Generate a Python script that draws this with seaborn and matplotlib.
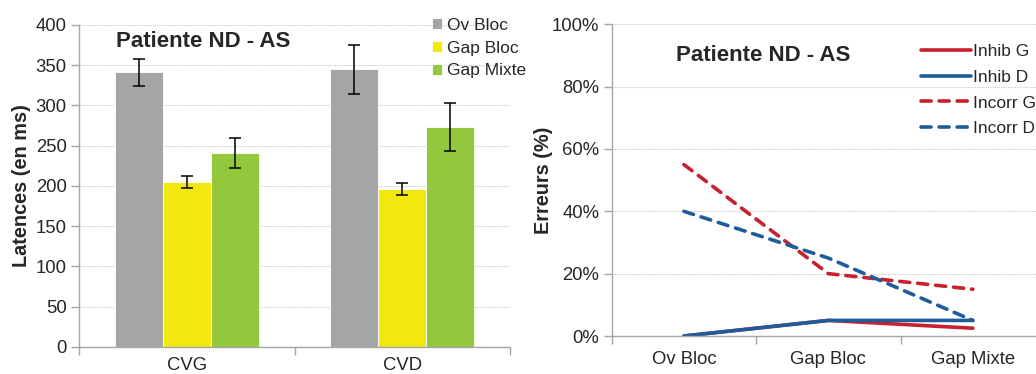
import numpy as np
import pandas as pd
import matplotlib
matplotlib.use("Agg")
import matplotlib.pyplot as plt
import seaborn as sns

# ---- data: latencies (left panel) ----
groups = ["CVG", "CVD"]
conditions = ["Ov Bloc", "Gap Bloc", "Gap Mixte"]
lat_cvg = [341, 205, 241]
lat_cvd = [345, 196, 273]
err_cvg = [17, 8, 18.5]
err_cvd = [30.5, 7.5, 30]

# ---- data: errors (right panel), in % ----
err_labels = ["Ov Bloc", "Gap Bloc", "Gap Mixte"]
inhib_g = [0, 5, 2.5]
inhib_d = [0, 5, 5]
incorr_g = [55, 20, 15]
incorr_d = [40, 25, 5]

bar_colors = ["#A5A5A5", "#F2E80F", "#92C73E"]
red = "#C8202F"
blue = "#1F5C9A"
grid_col = "#C8C8C8"
spine_col = "#A6A6A6"

sns.set_theme(style="white")
plt.rcParams["font.family"] = ["Liberation Sans", "DejaVu Sans"]

fig = plt.figure(figsize=(10.36, 3.74), dpi=100)
ax1 = fig.add_axes([0.0763, 0.0722, 0.416, 0.861])
ax2 = fig.add_axes([0.5904, 0.1016, 0.4184, 0.8334])

# ================= LEFT: bar chart =================
df_lat = pd.DataFrame({
    "Groupe": np.repeat(groups, len(conditions)),
    "Condition": conditions * len(groups),
    "Latence": lat_cvg + lat_cvd,
    "Err": err_cvg + err_cvd,
})
sns.barplot(data=df_lat, x="Groupe", y="Latence", hue="Condition",
            hue_order=conditions, palette=bar_colors, width=0.667,
            errorbar=None, saturation=1, ax=ax1,
            edgecolor="white", linewidth=0.6)

# error bars on top of each bar (positions taken from the drawn patches)
for cont, cond in zip(ax1.containers, conditions):
    sub = df_lat[df_lat["Condition"] == cond].set_index("Groupe").loc[groups]
    xs = [p.get_x() + p.get_width() / 2 for p in cont.patches]
    ax1.errorbar(xs, sub["Latence"], yerr=sub["Err"], fmt="none",
                 ecolor="black", elinewidth=1.1, capsize=4, capthick=1.1, zorder=5)

ax1.set_ylim(0, 400)
ax1.set_xlim(-0.5, 1.5)
ax1.set_yticks(range(0, 401, 50))
ax1.yaxis.grid(True, color=grid_col, linestyle=(0, (1, 1)), linewidth=0.8)
ax1.set_axisbelow(True)
ax1.set_xticks([-0.5, 0.5, 1.5])
ax1.set_xticklabels([])
ax1.set_xticks([0, 1], minor=True)
ax1.set_xticklabels(groups, minor=True)
ax1.tick_params(axis="x", which="major", length=6, width=1, color=spine_col, direction="out", bottom=True)
ax1.tick_params(axis="x", which="minor", length=0, pad=7, labelsize=13.3, bottom=True)
ax1.tick_params(axis="y", length=6, width=1, color=spine_col, direction="out", left=True, labelsize=13.3, pad=3)
ax1.set_xlabel("")
ax1.set_ylabel("Latences (en ms)", fontsize=14.3, fontweight="bold", labelpad=3)
for s in ["top", "right"]:
    ax1.spines[s].set_visible(False)
for s in ["left", "bottom"]:
    ax1.spines[s].set_color(spine_col)
    ax1.spines[s].set_linewidth(1)
ax1.text(0.085, 0.98, "Patiente ND - AS", transform=ax1.transAxes,
         fontsize=16, fontweight="bold", va="top", ha="left")
leg1 = ax1.legend(loc="upper right", bbox_to_anchor=(1.065, 1.06), frameon=False,
                  fontsize=12.5, handlelength=0.6, handleheight=0.6,
                  handletextpad=0.25, labelspacing=0.45, borderpad=0.2)

# ================= RIGHT: line chart =================
df_err = pd.DataFrame({
    "Condition": err_labels * 4,
    "Erreurs": inhib_g + inhib_d + incorr_g + incorr_d,
    "Serie": np.repeat(["Inhib G", "Inhib D", "Incorr G", "Incorr D"], len(err_labels)),
})
series_order = ["Inhib G", "Inhib D", "Incorr G", "Incorr D"]
sns.lineplot(data=df_err, x="Condition", y="Erreurs", hue="Serie", style="Serie",
             hue_order=series_order, style_order=series_order,
             palette={"Inhib G": red, "Inhib D": blue, "Incorr G": red, "Incorr D": blue},
             dashes={"Inhib G": "", "Inhib D": "", "Incorr G": (2.8, 2.2), "Incorr D": (2.8, 2.2)},
             linewidth=2.6, sort=False, ax=ax2)
for ln in ax2.get_lines():
    ln.set_dash_capstyle("round")
    ln.set_solid_capstyle("round")

ax2.set_ylim(0, 100)
ax2.set_xlim(-0.5, 2.5)
ax2.set_yticks(range(0, 101, 20))
ax2.set_yticklabels([f"{v}%" for v in range(0, 101, 20)])
ax2.yaxis.grid(True, color=grid_col, linestyle=(0, (1, 1)), linewidth=0.8)
ax2.set_axisbelow(True)
ax2.set_xticks([-0.5, 0.5, 1.5, 2.5])
ax2.set_xticklabels([])
ax2.set_xticks([0, 1, 2], minor=True)
ax2.set_xticklabels(err_labels, minor=True)
ax2.tick_params(axis="x", which="major", length=6, width=1, color=spine_col, direction="out", bottom=True)
ax2.tick_params(axis="x", which="minor", length=0, pad=11, labelsize=13.3, bottom=True)
ax2.tick_params(axis="y", length=6, width=1, color=spine_col, direction="out", left=True, labelsize=13.3, pad=3)
ax2.set_xlabel("")
ax2.set_ylabel("Erreurs (%)", fontsize=14.3, fontweight="bold", labelpad=-1)
for s in ["top", "right"]:
    ax2.spines[s].set_visible(False)
for s in ["left", "bottom"]:
    ax2.spines[s].set_color(spine_col)
    ax2.spines[s].set_linewidth(1)
ax2.text(0.149, 0.935, "Patiente ND - AS", transform=ax2.transAxes,
         fontsize=16, fontweight="bold", va="top", ha="left")
leg2 = ax2.legend(loc="upper left", bbox_to_anchor=(0.685, 0.975), frameon=False,
                  fontsize=12.5, handlelength=2.9, handletextpad=0.1,
                  labelspacing=0.6, borderpad=0.2)
for h in leg2.get_lines():
    h.set_linewidth(2.6)

fig.savefig("out.png", dpi=100)
